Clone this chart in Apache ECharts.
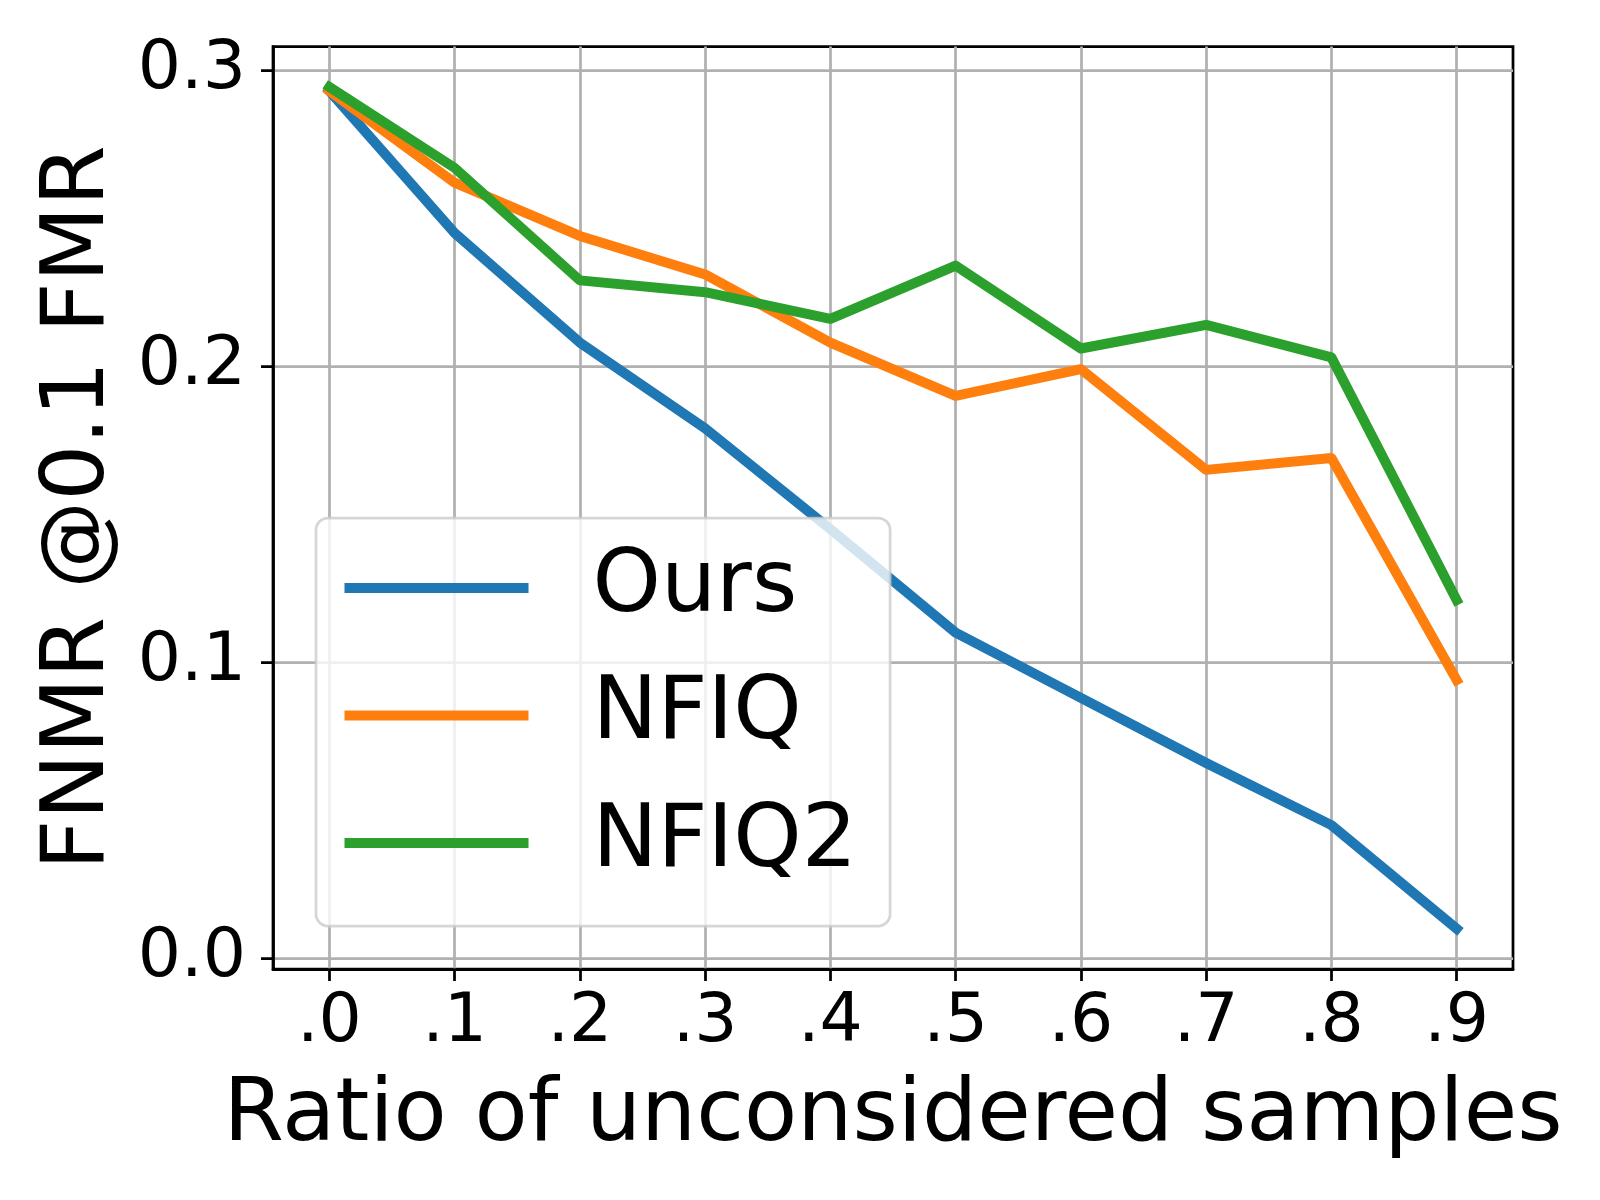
<!DOCTYPE html>
<html lang="en">
<head>
    <meta charset="UTF-8">
    <title>FNMR @0.1 FMR</title>
    <script src="https://cdn.jsdelivr.net/npm/echarts@6/dist/echarts.min.js"></script>
    <style>
        html, body {
            margin: 0;
            padding: 0;
            background: #ffffff;
        }
        #chart {
            width: 1600px;
            height: 1200px;
        }
    </style>
</head>
<body>
    <div id="chart"></div>
    <script>
        // values
        const ratios = [0, 0.1, 0.2, 0.3, 0.4, 0.5, 0.6, 0.7, 0.8, 0.9];
        const xTickLabels = ['.0', '.1', '.2', '.3', '.4', '.5', '.6', '.7', '.8', '.9'];
        const yTicks = [0, 0.1, 0.2, 0.3];
        const yTickLabels = ['0.0', '0.1', '0.2', '0.3'];
        const seriesNames = ['Ours', 'NFIQ', 'NFIQ2'];
        const ours = [0.293, 0.245, 0.208, 0.179, 0.145, 0.110, 0.088, 0.066, 0.045, 0.010];
        const nfiq = [0.293, 0.262, 0.244, 0.231, 0.208, 0.190, 0.199, 0.165, 0.169, 0.094];
        const nfiq2 = [0.2943, 0.267, 0.229, 0.225, 0.216, 0.234, 0.206, 0.214, 0.203, 0.121];

        const colors = ['#1f77b4', '#ff7f0e', '#2ca02c'];
        const font = 'DejaVu Sans';

        function pairs(values) {
            return ratios.map((r, i) => [r, values[i]]);
        }

        function makeLine(name, values, color) {
            return {
                name: name,
                type: 'line',
                data: pairs(values),
                symbol: 'none',
                color: color,
                lineStyle: { color: color, width: 10, cap: 'square', join: 'round' },
                emphasis: { disabled: true },
                animation: false
            };
        }

        const chart = echarts.init(document.getElementById('chart'));
        chart.setOption({
            animation: false,
            backgroundColor: '#ffffff',
            textStyle: { fontFamily: font, color: '#000' },
            grid: {
                left: 273,
                right: 87,
                top: 46.5,
                bottom: 231,
                show: true,
                borderColor: '#000',
                borderWidth: 2.75,
                backgroundColor: 'transparent',
                containLabel: false,
                outerBoundsMode: 'none'
            },
            xAxis: {
                type: 'value',
                min: -0.045,
                max: 0.945,
                name: 'Ratio of unconsidered samples',
                nameLocation: 'middle',
                nameGap: 105,
                nameTextStyle: { fontFamily: font, fontSize: 87, color: '#000' },
                axisLine: { show: true, onZero: false, lineStyle: { color: '#000', width: 2.75 } },
                axisTick: {
                    show: true, inside: false, length: 12,
                    customValues: ratios,
                    lineStyle: { color: '#000', width: 2.75 }
                },
                axisLabel: {
                    customValues: ratios,
                    margin: 20,
                    fontFamily: font,
                    fontSize: 68,
                    color: '#000',
                    formatter: v => xTickLabels[ratios.findIndex(r => Math.abs(r - v) < 1e-6)] || ''
                },
                splitLine: { show: true, lineStyle: { color: '#b0b0b0', width: 2.75 } }
            },
            yAxis: {
                type: 'value',
                min: -0.0036,
                max: 0.308,
                name: 'FNMR @0.1 FMR',
                nameLocation: 'middle',
                nameGap: 149,
                nameTextStyle: { fontFamily: font, fontSize: 88, color: '#000' },
                axisLine: { show: true, onZero: false, lineStyle: { color: '#000', width: 2.75 } },
                axisTick: {
                    show: true, inside: false, length: 12,
                    customValues: yTicks,
                    lineStyle: { color: '#000', width: 2.75 }
                },
                axisLabel: {
                    customValues: yTicks,
                    margin: 27,
                    fontFamily: font,
                    fontSize: 68,
                    color: '#000',
                    formatter: v => yTickLabels[yTicks.findIndex(t => Math.abs(t - v) < 1e-6)] || ''
                },
                splitLine: { show: true, lineStyle: { color: '#b0b0b0', width: 2.75 } }
            },
            legend: {
                data: seriesNames,
                orient: 'vertical',
                left: 316,
                top: 518,
                icon: 'rect',
                itemWidth: 184,
                itemHeight: 10,
                itemGap: 23.5,
                padding: [18, 33, 31, 28.5],
                backgroundColor: 'rgba(255,255,255,0.8)',
                borderColor: 'rgba(204,204,204,0.8)',
                borderWidth: 2.75,
                borderRadius: 12,
                selectedMode: false,
                itemStyle: { borderWidth: 0 },
                textStyle: {
                    fontFamily: font,
                    fontSize: 87,
                    lineHeight: 84,
                    color: '#000',
                    padding: [20, 0, 0, 59]
                }
            },
            series: [
                makeLine(seriesNames[0], ours, colors[0]),
                makeLine(seriesNames[1], nfiq, colors[1]),
                makeLine(seriesNames[2], nfiq2, colors[2])
            ]
        });
    </script>
</body>
</html>
